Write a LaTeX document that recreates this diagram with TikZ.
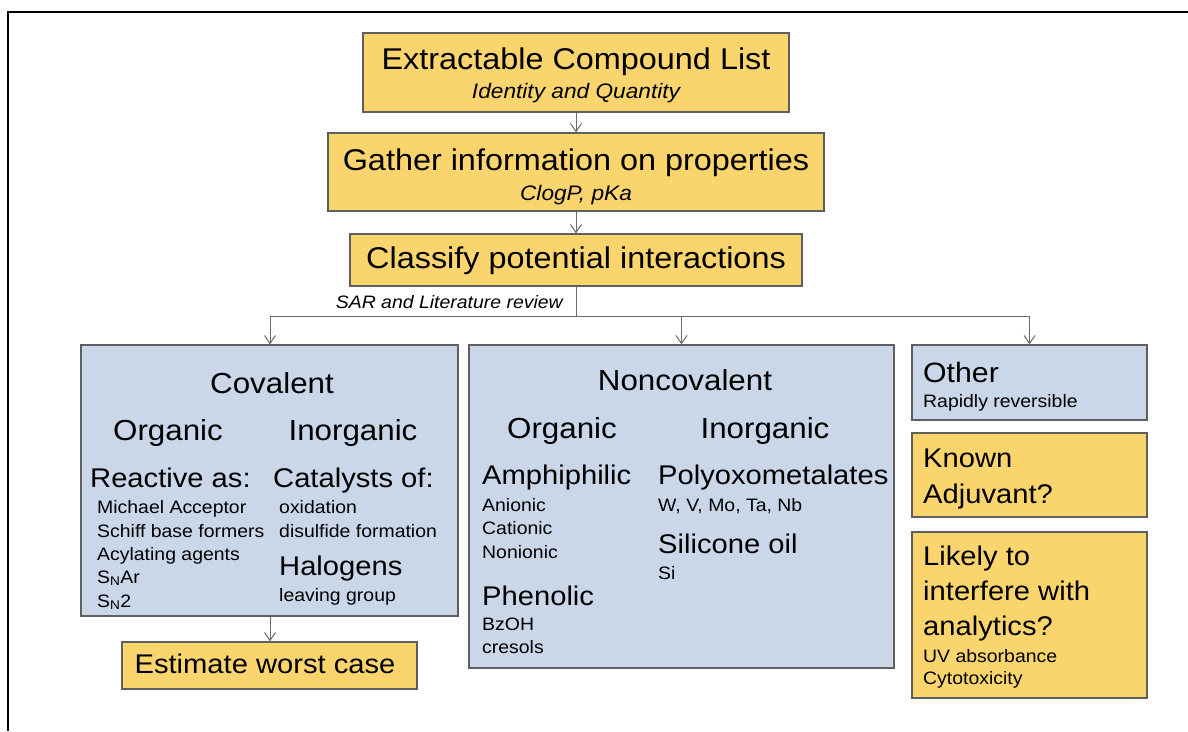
\documentclass[tikz,border=0pt]{standalone}
\usepackage{fontspec}
\setmainfont[FakeStretch=1.08]{Liberation Sans}
\usetikzlibrary{arrows.meta}
\definecolor{boxyellow}{RGB}{250,213,110}
\definecolor{boxblue}{RGB}{201,215,233}
\definecolor{boxedge}{RGB}{95,95,95}
\definecolor{arrowgray}{RGB}{105,105,105}
\tikzset{box/.style={draw=boxedge, line width=1.3pt, inner sep=0pt}}
\tikzset{yellow box/.style={box, fill=boxyellow}}
\tikzset{blue box/.style={box, fill=boxblue}}
\tikzset{arrow style/.style={draw=arrowgray, line width=1pt,
    -{Straight Barb[length=8pt, width=11pt]}}}
\tikzset{title text/.style={inner sep=0pt, font=\fontsize{30}{32}\selectfont}}
\tikzset{head text/.style={inner sep=0pt, font=\fontsize{29}{31}\selectfont}}
\tikzset{mid text/.style={inner sep=0pt, font=\fontsize{27}{29}\selectfont}}
\tikzset{small text/.style={inner sep=0pt, font=\fontsize{18}{20}\selectfont}}
\tikzset{note text/.style={inner sep=0pt, font=\fontsize{21}{23}\selectfont\itshape}}

\begin{document}
\begin{tikzpicture}[x=1pt, y=-1pt]

\useasboundingbox (0,0) rectangle (1188,731);
\draw [line width=2pt] (8,731) -- (8,12) -- (1188,12);

\node [yellow box, minimum width=426pt, minimum height=79pt] (1) at (576, 72.5) {};
\node [yellow box, minimum width=496pt, minimum height=78pt] (2) at (576, 172) {};
\node [yellow box, minimum width=452pt, minimum height=52pt] (3) at (576, 260) {};
\node [blue box, minimum width=377pt, minimum height=271pt] (4) at (269.5, 480.5) {};
\node [blue box, minimum width=425pt, minimum height=323pt] (5) at (681.5, 506.5) {};
\node [blue box, minimum width=235pt, minimum height=75pt] (6) at (1029.5, 382.5) {};
\node [yellow box, minimum width=235pt, minimum height=84pt] (7) at (1029.5, 475) {};
\node [yellow box, minimum width=235pt, minimum height=166pt] (8) at (1029.5, 615) {};
\node [yellow box, minimum width=295pt, minimum height=47pt] (9) at (269.5, 665.5) {};

\node [title text, anchor=base] (11) at (576, 69) {Extractable Compound List};
\node [note text, anchor=base] (12) at (576, 98) {Identity and Quantity};
\node [title text, anchor=base] (21) at (576, 170) {Gather information on properties};
\node [note text, anchor=base] (22) at (576, 200) {ClogP, pKa};
\node [title text, anchor=base] (31) at (576, 268) {Classify potential interactions};
\node [small text, anchor=base east, font=\fontsize{18}{20}\selectfont\itshape] (32) at (563, 308) {SAR and Literature review};

\coordinate (30) at (576, 316);
\coordinate (34) at (270, 316);
\coordinate (35) at (681.5, 316);
\coordinate (36) at (1029.5, 316);

\node [head text, anchor=base] (41) at (272, 393) {Covalent};
\node [head text, anchor=base] (42) at (168, 440) {Organic};
\node [head text, anchor=base] (43) at (353, 440) {Inorganic};
\node [mid text, anchor=base west] (44) at (90, 487) {Reactive as:};
\node [small text, anchor=base west] (45) at (97, 513) {Michael Acceptor};
\node [small text, anchor=base west] (46) at (97, 537) {Schiff base formers};
\node [small text, anchor=base west] (47) at (97, 560) {Acylating agents};
\node [small text, anchor=base west] (48) at (97, 583) {S\textsubscript{N}Ar};
\node [small text, anchor=base west] (49) at (97, 607) {S\textsubscript{N}2};
\node [mid text, anchor=base west] (410) at (273, 487) {Catalysts of:};
\node [small text, anchor=base west] (411) at (279, 513) {oxidation};
\node [small text, anchor=base west] (412) at (279, 537) {disulfide formation};
\node [mid text, anchor=base west] (413) at (279, 575) {Halogens};
\node [small text, anchor=base west] (414) at (279, 601) {leaving group};

\node [head text, anchor=base] (51) at (685, 390) {Noncovalent};
\node [head text, anchor=base] (52) at (562, 438) {Organic};
\node [head text, anchor=base] (53) at (765, 438) {Inorganic};
\node [mid text, anchor=base west] (54) at (482, 484) {Amphiphilic};
\node [small text, anchor=base west] (55) at (482, 511) {Anionic};
\node [small text, anchor=base west] (56) at (482, 534) {Cationic};
\node [small text, anchor=base west] (57) at (482, 558) {Nonionic};
\node [mid text, anchor=base west] (58) at (482, 605) {Phenolic};
\node [small text, anchor=base west] (59) at (482, 630) {BzOH};
\node [small text, anchor=base west] (510) at (482, 653) {cresols};
\node [mid text, anchor=base west] (511) at (658, 484) {Polyoxometalates};
\node [small text, anchor=base west] (512) at (658, 511) {W, V, Mo, Ta, Nb};
\node [mid text, anchor=base west] (513) at (658, 553) {Silicone oil};
\node [small text, anchor=base west] (514) at (658, 579) {Si};

\node [head text, anchor=base west, font=\fontsize{28}{30}\selectfont] (61) at (923, 382) {Other};
\node [small text, anchor=base west] (62) at (923, 407) {Rapidly reversible};
\node [mid text, anchor=base west] (71) at (923, 467) {Known};
\node [mid text, anchor=base west] (72) at (923, 503) {Adjuvant?};
\node [mid text, anchor=base west] (81) at (923, 565) {Likely to};
\node [mid text, anchor=base west] (82) at (923, 600) {interfere with};
\node [mid text, anchor=base west] (83) at (923, 635) {analytics?};
\node [small text, anchor=base west] (84) at (923, 662) {UV absorbance};
\node [small text, anchor=base west] (85) at (923, 684) {Cytotoxicity};
\node [mid text, anchor=base] (91) at (265, 673) {Estimate worst case};

\draw [arrow style] (1) to (2);
\draw [arrow style] (2) to (3);
\draw [draw=arrowgray, line width=1pt] (3) to (30);
\draw [draw=arrowgray, line width=1pt] (34) to (36);
\draw [arrow style] (34) to (34 |- 4.north);
\draw [arrow style] (35) to (5);
\draw [arrow style] (36) to (6);
\draw [arrow style] (4.south -| 34) to (34 |- 9.north);

\end{tikzpicture}
\end{document}
